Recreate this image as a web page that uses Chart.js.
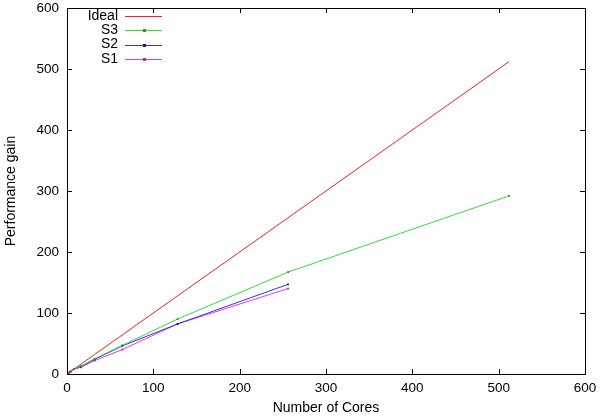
<!DOCTYPE html>
<html>
<head>
<meta charset="utf-8">
<script src="https://cdn.jsdelivr.net/npm/chart.js@4/dist/chart.umd.min.js"></script>
<style>
  html, body { margin: 0; padding: 0; background: #fff; }
  #wrap { width: 600px; height: 418px; position: relative; }
</style>
</head>
<body>
<div id="wrap"><canvas id="gain-chart"></canvas></div>
<script>
// cores used in the runs
const cores = [1, 2, 4, 8, 16, 32, 64, 128, 256, 512];
const ideal = [1, 2, 4, 8, 16, 32, 64, 128, 256, 512];
const s3 = [1, 2, 4, 8, 13, 25, 47, 90, 167, 292];
const s2 = [1, 2, 4, 8, 12, 24, 46, 82, 147];
const s1 = [1, 2, 4, 8, 11, 22, 40, 82, 140];
const axisTicks = [0, 100, 200, 300, 400, 500, 600];

const FONT = 'Liberation Sans, Arial, Helvetica, sans-serif';

function pts(vals) {
  return vals.map((v, i) => ({ x: cores[i], y: v }));
}

// gnuplot style frame: box, inward ticks on all sides, legend top-left
const gnuFrame = {
  id: 'gnuFrame',
  afterDraw(chart) {
    const { ctx, chartArea: a, scales } = chart;
    const tl = 5;
    ctx.save();
    ctx.strokeStyle = '#000';
    ctx.lineWidth = 1;
    ctx.strokeRect(Math.round(a.left) + 0.5, Math.round(a.top) + 0.5,
      Math.round(a.right - a.left), Math.round(a.bottom - a.top));
    ctx.beginPath();
    for (const t of scales.x.ticks) {
      const px = Math.round(scales.x.getPixelForValue(t.value)) + 0.5;
      ctx.moveTo(px, a.bottom); ctx.lineTo(px, a.bottom - tl);
      ctx.moveTo(px, a.top); ctx.lineTo(px, a.top + tl);
    }
    for (const t of scales.y.ticks) {
      const py = Math.round(scales.y.getPixelForValue(t.value)) + 0.5;
      ctx.moveTo(a.left, py); ctx.lineTo(a.left + tl, py);
      ctx.moveTo(a.right, py); ctx.lineTo(a.right - tl, py);
    }
    ctx.stroke();

    // legend
    ctx.font = '14px ' + FONT;
    ctx.textAlign = 'right';
    ctx.textBaseline = 'middle';
    const textRight = 118, x0 = 125, x1 = 162;
    let y = 16;
    chart.data.datasets.forEach(ds => {
      ctx.fillStyle = '#000';
      ctx.fillText(ds.label, textRight, y);
      ctx.strokeStyle = ds.borderColor;
      ctx.beginPath();
      ctx.moveTo(x0, Math.round(y) + 0.5); ctx.lineTo(x1, Math.round(y) + 0.5);
      ctx.stroke();
      if (ds.pointRadius > 0) {
        ctx.fillStyle = ds.pointBackgroundColor;
        ctx.fillRect(Math.round((x0 + x1) / 2) - 1, Math.round(y) - 1, 3, 3);
      }
      y += 14.3;
    });
    ctx.restore();
  }
};

new Chart(document.getElementById('gain-chart'), {
  type: 'scatter',
  data: {
    datasets: [
      {
        label: 'Ideal',
        data: pts(ideal),
        showLine: true,
        borderColor: '#f02020',
        borderWidth: 1,
        pointRadius: 0
      },
      {
        label: 'S3',
        data: pts(s3),
        showLine: true,
        borderColor: '#30e030',
        borderWidth: 1,
        pointStyle: 'rect',
        pointRadius: 1.3,
        pointBackgroundColor: '#20a020',
        pointBorderWidth: 0
      },
      {
        label: 'S2',
        data: pts(s2),
        showLine: true,
        borderColor: '#3030f0',
        borderWidth: 1,
        pointStyle: 'rect',
        pointRadius: 1.3,
        pointBackgroundColor: '#1a1a90',
        pointBorderWidth: 0
      },
      {
        label: 'S1',
        data: pts(s1),
        showLine: true,
        borderColor: '#f030f0',
        borderWidth: 1,
        pointStyle: 'rect',
        pointRadius: 1.3,
        pointBackgroundColor: '#c020c0',
        pointBorderWidth: 0
      }
    ]
  },
  options: {
    responsive: true,
    maintainAspectRatio: false,
    animation: false,
    layout: { padding: { top: 8, right: 15, left: 0, bottom: 0 } },
    plugins: { legend: { display: false }, tooltip: { enabled: false } },
    scales: {
      x: {
        type: 'linear',
        min: 0, max: 600,
        afterBuildTicks: s => { s.ticks = axisTicks.map(v => ({ value: v })); },
        afterFit: s => { s.height = 44; s.paddingLeft = 0; s.paddingRight = 0; },
        grid: { display: false, drawTicks: false },
        border: { display: false },
        ticks: { color: '#000', padding: 6, font: { family: FONT, size: 13.5 } },
        title: { display: true, text: 'Number of Cores', color: '#000', padding: { top: 0, bottom: 1.6 }, font: { family: FONT, size: 14 } }
      },
      y: {
        type: 'linear',
        min: 0, max: 600,
        afterBuildTicks: s => { s.ticks = axisTicks.map(v => ({ value: v })); },
        afterFit: s => { s.width = 67; s.paddingTop = 0; s.paddingBottom = 0; },
        grid: { display: false, drawTicks: false },
        border: { display: false },
        ticks: { color: '#000', padding: 8, font: { family: FONT, size: 13.5 } },
        title: { display: true, text: 'Performance gain', color: '#000', padding: { top: 3, bottom: 0 }, font: { family: FONT, size: 14 } }
      }
    }
  },
  plugins: [gnuFrame]
});
</script>
</body>
</html>
